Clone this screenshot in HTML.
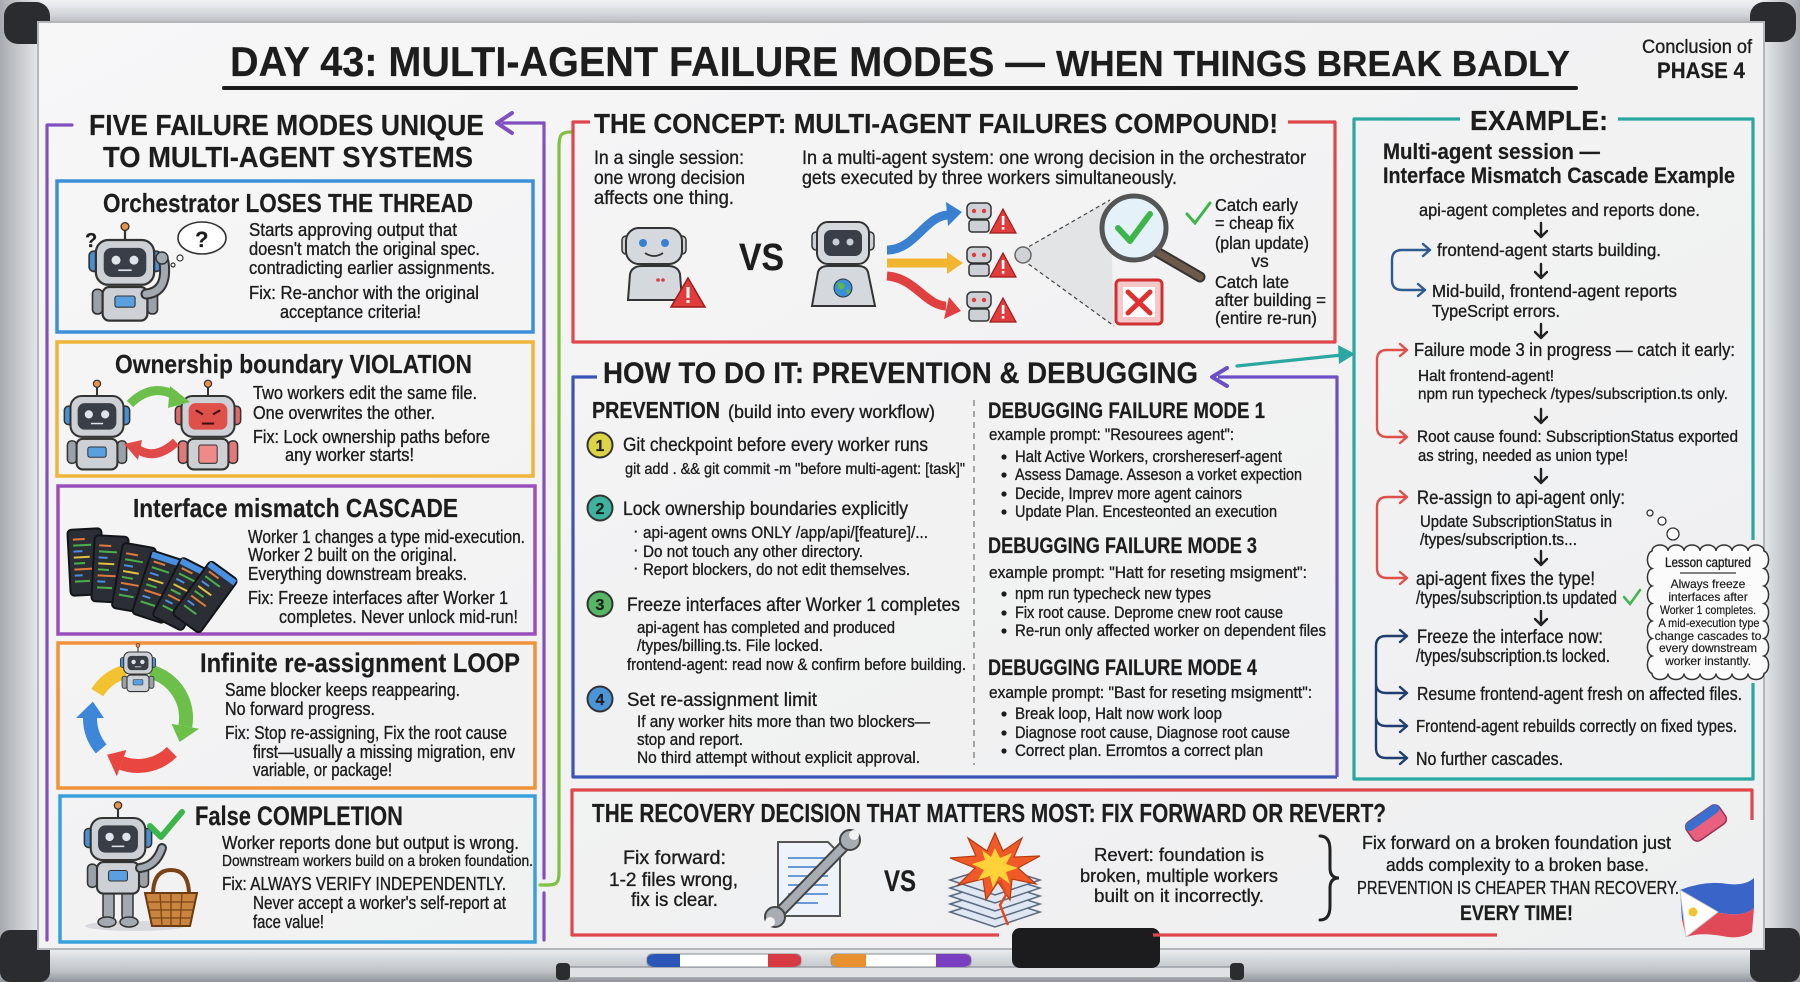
<!DOCTYPE html>
<html><head><meta charset="utf-8"><style>
html,body{margin:0;padding:0;width:1800px;height:982px;overflow:hidden;background:#cfd2d6}
svg{display:block}
.f{font-family:"Liberation Sans Narrow","Liberation Sans",Arial,sans-serif;fill:#1d1d1d;stroke:#1d1d1d;stroke-width:0.35px}
.b{font-weight:700;stroke-width:0.2px}
</style></head><body>
<svg width="1800" height="982" viewBox="0 0 1800 982" xmlns="http://www.w3.org/2000/svg">
<defs>
<linearGradient id="gTop" x1="0" y1="0" x2="0" y2="1"><stop offset="0" stop-color="#f1f2f4"/><stop offset=".6" stop-color="#d2d5d9"/><stop offset="1" stop-color="#b3b7bc"/></linearGradient>
<linearGradient id="gBot" x1="0" y1="0" x2="0" y2="1"><stop offset="0" stop-color="#f3f4f5"/><stop offset=".35" stop-color="#d6d9dc"/><stop offset=".7" stop-color="#bfc3c8"/><stop offset="1" stop-color="#8f949a"/></linearGradient>
<linearGradient id="gL" x1="0" y1="0" x2="1" y2="0"><stop offset="0" stop-color="#a7abb1"/><stop offset="1" stop-color="#e7e9eb"/></linearGradient>
<linearGradient id="gR" x1="0" y1="0" x2="1" y2="0"><stop offset="0" stop-color="#e7e9eb"/><stop offset="1" stop-color="#a7abb1"/></linearGradient>
<linearGradient id="gBoard" x1="0" y1="0" x2="1" y2="1"><stop offset="0" stop-color="#f7f7f8"/><stop offset=".5" stop-color="#f2f2f3"/><stop offset="1" stop-color="#eeeff0"/></linearGradient>
<g id="rob">
 <line x1="0" y1="-10" x2="0" y2="0" stroke="#333" stroke-width="2"/>
 <circle cx="0" cy="-12" r="3.5" fill="#e8904a" stroke="#333" stroke-width="1.2"/>
 <rect x="-32" y="10" width="9" height="18" rx="4" fill="#4a8fd0" stroke="#333" stroke-width="1.5"/>
 <rect x="23" y="10" width="9" height="18" rx="4" fill="#4a8fd0" stroke="#333" stroke-width="1.5"/>
 <rect x="-29" y="44" width="9" height="22" rx="4" fill="#9ba1a9" stroke="#333" stroke-width="1.5"/>
 <rect x="20" y="44" width="9" height="22" rx="4" fill="#9ba1a9" stroke="#333" stroke-width="1.5"/>
 <rect x="-20" y="42" width="40" height="30" rx="6" fill="#cdd1d6" stroke="#333" stroke-width="2"/>
 <rect x="-9" y="50" width="18" height="10" rx="2" fill="#5aa0e0" stroke="#333" stroke-width="1"/>
 <rect x="-26" y="0" width="52" height="40" rx="11" fill="#cdd1d6" stroke="#333" stroke-width="2"/>
 <rect x="-19" y="7" width="38" height="26" rx="7" fill="#3a3f47"/>
 <circle cx="-8" cy="18" r="4" fill="#dfe4ea"/>
 <circle cx="8" cy="18" r="4" fill="#dfe4ea"/>
 <path d="M-6,27 h12" stroke="#dfe4ea" stroke-width="1.5"/>
</g>
<g id="robr">
 <line x1="0" y1="-10" x2="0" y2="0" stroke="#333" stroke-width="2"/>
 <circle cx="0" cy="-12" r="3.5" fill="#e8904a" stroke="#333" stroke-width="1.2"/>
 <rect x="-32" y="10" width="9" height="18" rx="4" fill="#e06a6a" stroke="#333" stroke-width="1.5"/>
 <rect x="23" y="10" width="9" height="18" rx="4" fill="#e06a6a" stroke="#333" stroke-width="1.5"/>
 <rect x="-29" y="44" width="9" height="22" rx="4" fill="#e07a7a" stroke="#333" stroke-width="1.5"/>
 <rect x="20" y="44" width="9" height="22" rx="4" fill="#e07a7a" stroke="#333" stroke-width="1.5"/>
 <rect x="-20" y="42" width="40" height="30" rx="6" fill="#cdd1d6" stroke="#333" stroke-width="2"/>
 <rect x="-9" y="48" width="18" height="18" rx="2" fill="#f08a8a" stroke="#333" stroke-width="1"/>
 <rect x="-26" y="0" width="52" height="40" rx="11" fill="#cdd1d6" stroke="#333" stroke-width="2"/>
 <rect x="-19" y="7" width="38" height="26" rx="7" fill="#e0504a"/>
 <path d="M-12,14 l7,4 M12,14 l-7,4" stroke="#3a1010" stroke-width="2"/>
 <path d="M-6,27 h12" stroke="#3a1010" stroke-width="2"/>
</g>
<g id="code">
 <rect x="-12" y="-24" width="12" height="2" fill="#e07a3a"/>
 <rect x="-12" y="-18" width="18" height="2" fill="#4ab04a"/>
 <rect x="-12" y="-12" width="9" height="2" fill="#4a90e0"/>
 <rect x="-12" y="-6" width="16" height="2" fill="#e0c040"/>
 <rect x="-12" y="0" width="11" height="2" fill="#4ab04a"/>
 <rect x="-12" y="6" width="18" height="2" fill="#e07a3a"/>
 <rect x="-12" y="12" width="8" height="2" fill="#4a90e0"/>
 <rect x="-12" y="18" width="15" height="2" fill="#4ab04a"/>
</g>
<g id="book">
 <rect x="-17" y="-33" width="34" height="66" rx="4" fill="#2b2e35" stroke="#121417" stroke-width="2"/>
 <use href="#code"/>
</g>
<g id="bookb">
 <rect x="-17" y="-33" width="34" height="66" rx="4" fill="#2b2e35" stroke="#121417" stroke-width="2"/>
 <rect x="-16" y="-32" width="32" height="6" fill="#4a90e0"/>
 <use href="#code"/>
</g>
<g id="mini">
 <rect x="-12" y="0" width="24" height="16" rx="5" fill="#cdd1d6" stroke="#333" stroke-width="1.5"/>
 <circle cx="-5" cy="8" r="2.2" fill="#e03c3c"/><circle cx="5" cy="8" r="2.2" fill="#e03c3c"/>
 <rect x="-10" y="17" width="20" height="12" rx="3" fill="#cdd1d6" stroke="#333" stroke-width="1.5"/>
 <polygon points="24,6 37,30 11,30" fill="#e03c3c" stroke="#a01818" stroke-width="1.2"/>
 <rect x="22.8" y="13" width="2.6" height="9" fill="#fff"/><rect x="22.8" y="24" width="2.6" height="2.6" fill="#fff"/>
</g>
</defs>

<!-- FRAME -->
<rect x="0" y="0" width="1800" height="982" fill="#cfd2d6"/>
<rect x="0" y="0" width="1800" height="24" fill="url(#gTop)"/>
<rect x="0" y="0" width="40" height="982" fill="url(#gL)"/>
<rect x="1762" y="0" width="38" height="982" fill="url(#gR)"/>
<rect x="0" y="946" width="1800" height="36" fill="url(#gBot)"/>
<rect x="4" y="2" width="46" height="42" rx="14" fill="#2b2c2f"/>
<rect x="1750" y="2" width="46" height="40" rx="14" fill="#2b2c2f"/>
<rect x="0" y="930" width="50" height="52" rx="10" fill="#2b2c2f"/>
<rect x="1750" y="928" width="50" height="54" rx="10" fill="#2b2c2f"/>
<rect x="38" y="22" width="1726" height="927" fill="url(#gBoard)" stroke="#b3b6bb" stroke-width="2"/>
<!-- tray -->
<rect x="560" y="967" width="680" height="11" rx="5" fill="#dfe1e4" stroke="#9ca0a6" stroke-width="1.5"/>
<rect x="556" y="963" width="14" height="17" rx="4" fill="#2b2c2f"/>
<rect x="1230" y="963" width="14" height="17" rx="4" fill="#2b2c2f"/>
<rect x="647" y="954" width="154" height="13" rx="5" fill="#ffffff" stroke="#8a8e94" stroke-width="1"/>
<path d="M647,960 Q647,954 656,954 L680,954 L680,967 L656,967 Q647,967 647,960 Z" fill="#2a56b8"/>
<path d="M768,954 L792,954 Q801,954 801,960 Q801,967 792,967 L768,967 Z" fill="#d83a44"/>
<rect x="831" y="954" width="140" height="13" rx="5" fill="#ffffff" stroke="#8a8e94" stroke-width="1"/>
<path d="M831,960 Q831,954 840,954 L866,954 L866,967 L840,967 Q831,967 831,960 Z" fill="#e8902e"/>
<path d="M936,954 L962,954 Q971,954 971,960 Q971,967 962,967 L936,967 Z" fill="#7a3fc0"/>
<rect x="1012" y="928" width="148" height="40" rx="8" fill="#1c1c1e"/>

<!-- TITLE -->
<text class="f b" x="230" y="76" font-size="42" textLength="815" lengthAdjust="spacingAndGlyphs">DAY 43: MULTI-AGENT FAILURE MODES —</text>
<text class="f b" x="1056" y="76" font-size="36" textLength="514" lengthAdjust="spacingAndGlyphs">WHEN THINGS BREAK BADLY</text>
<line x1="224" y1="88" x2="1576" y2="88" stroke="#1a1a1a" stroke-width="4" stroke-linecap="round"/>
<text class="f" x="1642" y="53" font-size="19" textLength="110" lengthAdjust="spacingAndGlyphs">Conclusion of</text>
<text class="f b" x="1657" y="78" font-size="22" textLength="88" lengthAdjust="spacingAndGlyphs">PHASE 4</text>

<!-- LEFT PANEL -->
<g fill="none" stroke="#8150c0" stroke-width="3.2" stroke-linecap="round" stroke-linejoin="round">
 <path d="M72,125 L47,125 L47,940"/>
 <path d="M544,123 L503,123"/>
 <path d="M512,113 L497,123 L512,133" stroke-width="4"/>
 <path d="M544,123 L544,878"/>
 <path d="M544,893 L544,940"/>
</g>
<path d="M571,132 C560,132 559,136 559,148 L559,872 C559,884 556,885 546,885 L540,885" fill="none" stroke="#7dc242" stroke-width="3.2" stroke-linecap="round"/>
<text class="f b" x="89" y="135" font-size="29" textLength="395" lengthAdjust="spacingAndGlyphs">FIVE FAILURE MODES UNIQUE</text>
<text class="f b" x="103" y="167" font-size="29" textLength="370" lengthAdjust="spacingAndGlyphs">TO MULTI-AGENT SYSTEMS</text>

<g fill="none" stroke-width="3.5">
 <rect x="57" y="181" width="476" height="151" stroke="#3d8fd8"/>
 <rect x="57" y="342" width="476" height="134" stroke="#f0b43a"/>
 <rect x="58" y="486" width="477" height="148" stroke="#9a4fba"/>
 <rect x="58" y="643" width="477" height="145" stroke="#f0923a"/>
 <rect x="60" y="796" width="475" height="146" stroke="#3aa0dc"/>
</g>

<!-- card 1 -->
<text class="f b" x="103" y="212" font-size="26" textLength="370" lengthAdjust="spacingAndGlyphs">Orchestrator LOSES THE THREAD</text>
<g class="f" font-size="18">
<text x="249" y="236" textLength="208" lengthAdjust="spacingAndGlyphs">Starts approving output that</text>
<text x="249" y="255" textLength="231" lengthAdjust="spacingAndGlyphs">doesn't match the original spec.</text>
<text x="249" y="274" textLength="246" lengthAdjust="spacingAndGlyphs">contradicting earlier assignments.</text>
<text x="249" y="299" textLength="230" lengthAdjust="spacingAndGlyphs">Fix: Re-anchor with the original</text>
<text x="280" y="318" textLength="141" lengthAdjust="spacingAndGlyphs">acceptance criteria!</text>
</g>
<use href="#rob" transform="translate(125,240) scale(1.12)"/>
<path d="M146,294 Q168,292 164,262" fill="none" stroke="#333" stroke-width="11" stroke-linecap="round"/>
<path d="M146,294 Q168,292 164,262" fill="none" stroke="#a3a9b1" stroke-width="7" stroke-linecap="round"/>
<circle cx="162" cy="258" r="6" fill="#a3a9b1" stroke="#333" stroke-width="1.5"/>
<text class="f b" x="85" y="247" font-size="20">?</text>
<ellipse cx="202" cy="238" rx="24" ry="16" fill="#fff" stroke="#333" stroke-width="1.6"/>
<text class="f b" x="195" y="247" font-size="22">?</text>
<circle cx="180" cy="258" r="3" fill="#fff" stroke="#333" stroke-width="1.2"/>
<circle cx="173" cy="265" r="2" fill="#fff" stroke="#333" stroke-width="1.2"/>

<!-- card 2 -->
<text class="f b" x="115" y="373" font-size="26" textLength="357" lengthAdjust="spacingAndGlyphs">Ownership boundary VIOLATION</text>
<g class="f" font-size="18">
<text x="253" y="399" textLength="224" lengthAdjust="spacingAndGlyphs">Two workers edit the same file.</text>
<text x="253" y="419" textLength="182" lengthAdjust="spacingAndGlyphs">One overwrites the other.</text>
<text x="253" y="443" textLength="237" lengthAdjust="spacingAndGlyphs">Fix: Lock ownership paths before</text>
<text x="285" y="461" textLength="129" lengthAdjust="spacingAndGlyphs">any worker starts!</text>
</g>
<use href="#rob" transform="translate(97,396) scale(1.02)"/>
<use href="#robr" transform="translate(208,396) scale(1.02)"/>
<path d="M130,404 Q152,382 176,396" fill="none" stroke="#6cbf4a" stroke-width="9"/>
<polygon points="170,386 190,402 168,408" fill="#6cbf4a"/>
<path d="M176,442 Q154,462 136,448" fill="none" stroke="#e04a48" stroke-width="9"/>
<polygon points="142,440 124,444 138,460" fill="#e04a48"/>

<!-- card 3 -->
<text class="f b" x="133" y="517" font-size="26" textLength="325" lengthAdjust="spacingAndGlyphs">Interface mismatch CASCADE</text>
<g class="f" font-size="18">
<text x="248" y="543" textLength="277" lengthAdjust="spacingAndGlyphs">Worker 1 changes a type mid-execution.</text>
<text x="248" y="561" textLength="209" lengthAdjust="spacingAndGlyphs">Worker 2 built on the original.</text>
<text x="248" y="580" textLength="219" lengthAdjust="spacingAndGlyphs">Everything downstream breaks.</text>
<text x="248" y="604" textLength="260" lengthAdjust="spacingAndGlyphs">Fix: Freeze interfaces after Worker 1</text>
<text x="279" y="623" textLength="239" lengthAdjust="spacingAndGlyphs">completes. Never unlock mid-run!</text>
</g>
<use href="#book" transform="translate(86,562) rotate(-3)"/>
<use href="#book" transform="translate(110,569) rotate(3)"/>
<use href="#book" transform="translate(134,578) rotate(10)"/>
<use href="#bookb" transform="translate(158,587) rotate(18)"/>
<use href="#bookb" transform="translate(182,594) rotate(27)"/>
<use href="#bookb" transform="translate(205,597) rotate(36)"/>

<!-- card 4 -->
<text class="f b" x="200" y="672" font-size="27" textLength="320" lengthAdjust="spacingAndGlyphs">Infinite re-assignment LOOP</text>
<g class="f" font-size="18">
<text x="225" y="696" textLength="235" lengthAdjust="spacingAndGlyphs">Same blocker keeps reappearing.</text>
<text x="225" y="715" textLength="150" lengthAdjust="spacingAndGlyphs">No forward progress.</text>
<text x="225" y="739" textLength="282" lengthAdjust="spacingAndGlyphs">Fix: Stop re-assigning, Fix the root cause</text>
<text x="253" y="758" textLength="262" lengthAdjust="spacingAndGlyphs">first—usually a missing migration, env</text>
<text x="253" y="776" textLength="139" lengthAdjust="spacingAndGlyphs">variable, or package!</text>
</g>
<g fill="none" stroke-width="14">
 <path d="M97.3,692.6 A48,48 0 0 1 125.6,671.6" stroke="#f2c230"/>
 <path d="M150.4,671.6 A48,48 0 0 1 185.3,726.3" stroke="#6cc04a"/>
 <path d="M171.9,751.9 A48,48 0 0 1 121.6,763.1" stroke="#e8463e"/>
 <path d="M101.2,748.9 A48,48 0 0 1 90,718" stroke="#3d86d8"/>
</g>
<polygon points="199.1,728.8 171.5,723.9 179.6,742" fill="#6cc04a"/>
<polygon points="116.8,776.3 126.4,750 107.1,754.8" fill="#e8463e"/>
<polygon points="76,718 104,718 92.9,701.6" fill="#3d86d8"/>
<use href="#rob" transform="translate(138,652) scale(0.55)"/>

<!-- card 5 -->
<text class="f b" x="195" y="825" font-size="27" textLength="208" lengthAdjust="spacingAndGlyphs">False COMPLETION</text>
<g class="f" font-size="18">
<text x="222" y="849" textLength="297" lengthAdjust="spacingAndGlyphs">Worker reports done but output is wrong.</text>
<text x="222" y="866" font-size="15.5" textLength="311" lengthAdjust="spacingAndGlyphs">Downstream workers build on a broken foundation.</text>
<text x="222" y="890" textLength="284" lengthAdjust="spacingAndGlyphs">Fix: ALWAYS VERIFY INDEPENDENTLY.</text>
<text x="253" y="909" textLength="253" lengthAdjust="spacingAndGlyphs">Never accept a worker's self-report at</text>
<text x="253" y="928" textLength="71" lengthAdjust="spacingAndGlyphs">face value!</text>
</g>
<ellipse cx="135" cy="926" rx="50" ry="5" fill="#d8d9dc"/>
<rect x="103" y="888" width="11" height="32" rx="4" fill="#a3a9b1" stroke="#333" stroke-width="1.5"/>
<rect x="122" y="888" width="11" height="32" rx="4" fill="#a3a9b1" stroke="#333" stroke-width="1.5"/>
<ellipse cx="107" cy="922" rx="9" ry="5" fill="#a3a9b1" stroke="#333" stroke-width="1.5"/>
<ellipse cx="129" cy="922" rx="9" ry="5" fill="#a3a9b1" stroke="#333" stroke-width="1.5"/>
<use href="#rob" transform="translate(118,818) scale(1.05)"/>
<path d="M140,868 Q156,866 162,848" fill="none" stroke="#333" stroke-width="10" stroke-linecap="round"/>
<path d="M140,868 Q156,866 162,848" fill="none" stroke="#a3a9b1" stroke-width="6" stroke-linecap="round"/>
<path d="M150,826 L161,837 L182,812" fill="none" stroke="#3db54a" stroke-width="6" stroke-linecap="round" stroke-linejoin="round"/>
<path d="M153,895 Q153,870 171,870 Q189,870 189,895" fill="none" stroke="#7a4418" stroke-width="4"/>
<path d="M145,893 L197,893 L190,926 L152,926 Z" fill="#c9853e" stroke="#6a3a10" stroke-width="2"/>
<path d="M148,902 L194,902 M149,910 L193,910 M150,918 L192,918 M160,893 L162,926 M171,893 L171,926 M182,893 L180,926" stroke="#7a4418" stroke-width="1.3"/>

<!-- CONCEPT BOX -->
<path d="M590,122 L573,122 L573,342 L1335,342 L1335,122 L1288,122" fill="none" stroke="#e0474c" stroke-width="3.2" stroke-linejoin="round"/>
<text class="f b" x="594" y="133" font-size="28" textLength="684" lengthAdjust="spacingAndGlyphs">THE CONCEPT: MULTI-AGENT FAILURES COMPOUND!</text>
<g class="f" font-size="19">
<text x="594" y="164" textLength="150" lengthAdjust="spacingAndGlyphs">In a single session:</text>
<text x="594" y="184" textLength="151" lengthAdjust="spacingAndGlyphs">one wrong decision</text>
<text x="594" y="204" textLength="140" lengthAdjust="spacingAndGlyphs">affects one thing.</text>
<text x="802" y="164" textLength="504" lengthAdjust="spacingAndGlyphs">In a multi-agent system: one wrong decision in the orchestrator</text>
<text x="802" y="184" textLength="375" lengthAdjust="spacingAndGlyphs">gets executed by three workers simultaneously.</text>
</g>
<!-- single robot -->
<rect x="622" y="236" width="8" height="18" rx="4" fill="#cdd1d6" stroke="#333" stroke-width="1.5"/>
<rect x="678" y="236" width="8" height="18" rx="4" fill="#cdd1d6" stroke="#333" stroke-width="1.5"/>
<rect x="626" y="228" width="56" height="36" rx="13" fill="#d5d9de" stroke="#333" stroke-width="2"/>
<circle cx="643" cy="243" r="4" fill="#3a80d0"/><circle cx="665" cy="243" r="4" fill="#3a80d0"/>
<path d="M645,253 Q654,259 663,253" fill="none" stroke="#333" stroke-width="1.8"/>
<path d="M628,300 L630,274 Q632,266 642,266 L668,266 Q678,266 680,274 L682,300 Z" fill="#d5d9de" stroke="#333" stroke-width="2"/>
<circle cx="658" cy="280" r="1.8" fill="#e03c3c"/><circle cx="663" cy="280" r="1.8" fill="#e03c3c"/>
<polygon points="688,278 705,307 671,307" fill="#e03c3c" stroke="#a01818" stroke-width="1.5"/>
<rect x="686.5" y="287" width="3" height="11" fill="#fff"/><rect x="686.5" y="300" width="3" height="3" fill="#fff"/>
<text class="f b" x="739" y="270" font-size="38" textLength="45" lengthAdjust="spacingAndGlyphs">VS</text>
<!-- orchestrator -->
<rect x="812" y="232" width="8" height="18" rx="4" fill="#cdd1d6" stroke="#333" stroke-width="1.5"/>
<rect x="866" y="232" width="8" height="18" rx="4" fill="#cdd1d6" stroke="#333" stroke-width="1.5"/>
<rect x="817" y="222" width="52" height="42" rx="11" fill="#d5d9de" stroke="#333" stroke-width="2"/>
<rect x="824" y="230" width="38" height="26" rx="7" fill="#3a3f47"/>
<circle cx="836" cy="242" r="3.5" fill="#c8ced6"/><circle cx="850" cy="242" r="3.5" fill="#c8ced6"/>
<path d="M812,306 L818,272 Q820,266 828,266 L858,266 Q866,266 868,272 L875,306 Z" fill="#d5d9de" stroke="#333" stroke-width="2"/>
<circle cx="843" cy="288" r="9" fill="#3a8fd6" stroke="#333" stroke-width="1"/>
<path d="M837,283 Q842,281 845,286 Q842,291 839,289 Z M846,290 Q850,288 850,293 Q847,295 846,290 Z" fill="#5cb84a"/>
<!-- arrows -->
<path d="M887,250 C915,250 925,216 948,215" fill="none" stroke="#3a80d0" stroke-width="9"/>
<polygon points="962,212 946,202 948,226" fill="#3a80d0"/>
<path d="M887,263 L948,263" fill="none" stroke="#f2b530" stroke-width="9"/>
<polygon points="963,263 947,252 947,274" fill="#f2b530"/>
<path d="M887,276 C915,278 925,305 946,306" fill="none" stroke="#e04040" stroke-width="9"/>
<polygon points="961,311 949,297 944,319" fill="#e04040"/>
<use href="#mini" transform="translate(979,203)"/>
<use href="#mini" transform="translate(979,247)"/>
<use href="#mini" transform="translate(979,292)"/>
<!-- magnifier -->
<polygon points="1023,250 1110,200 1114,326 1023,260" fill="#d9dadc" opacity=".6"/>
<line x1="1023" y1="250" x2="1110" y2="200" stroke="#444" stroke-width="1.2" stroke-dasharray="4 3"/>
<line x1="1023" y1="260" x2="1114" y2="326" stroke="#444" stroke-width="1.2" stroke-dasharray="4 3"/>
<circle cx="1023" cy="255" r="8" fill="#d0d2d5" stroke="#666" stroke-width="1.5"/>
<line x1="1157" y1="252" x2="1200" y2="277" stroke="#333" stroke-width="11" stroke-linecap="round"/>
<line x1="1157" y1="252" x2="1200" y2="277" stroke="#6e5a48" stroke-width="7" stroke-linecap="round"/>
<circle cx="1134" cy="228" r="32" fill="#e4f1f8" stroke="#555" stroke-width="5"/>
<path d="M1118,228 L1130,241 L1150,214" fill="none" stroke="#3db54a" stroke-width="6" stroke-linecap="round" stroke-linejoin="round"/>
<rect x="1116" y="280" width="46" height="44" rx="4" fill="#f4c8c8" stroke="#d03030" stroke-width="3"/>
<rect x="1123" y="287" width="32" height="30" fill="#fff"/>
<path d="M1128,292 L1150,313 M1150,292 L1128,313" stroke="#e03030" stroke-width="5" stroke-linecap="round"/>
<path d="M1187,214 L1195,223 L1210,203" fill="none" stroke="#3db54a" stroke-width="3" stroke-linecap="round"/>
<g class="f" font-size="17.5">
<text x="1215" y="211" textLength="83" lengthAdjust="spacingAndGlyphs">Catch early</text>
<text x="1215" y="229" textLength="79" lengthAdjust="spacingAndGlyphs">= cheap fix</text>
<text x="1215" y="249" textLength="94" lengthAdjust="spacingAndGlyphs">(plan update)</text>
<text x="1260" y="267" text-anchor="middle">vs</text>
<text x="1215" y="288" textLength="74" lengthAdjust="spacingAndGlyphs">Catch late</text>
<text x="1215" y="306" textLength="111" lengthAdjust="spacingAndGlyphs">after building =</text>
<text x="1215" y="324" textLength="102" lengthAdjust="spacingAndGlyphs">(entire re-run)</text>
</g>

<!-- HOW TO BOX -->
<path d="M597,377 L573,377 L573,777 L1337,777" fill="none" stroke="#3b55b5" stroke-width="3.2" stroke-linejoin="round"/>
<path d="M1337,777 L1337,377 L1218,377" fill="none" stroke="#6b4fc4" stroke-width="3.2" stroke-linejoin="round"/>
<path d="M1227,368 L1212,377 L1227,386" fill="none" stroke="#6b4fc4" stroke-width="4" stroke-linecap="round" stroke-linejoin="round"/>
<path d="M1237,366 L1342,355" fill="none" stroke="#2aa7a0" stroke-width="3.2" stroke-linecap="round"/>
<polygon points="1338,345 1355,354 1339,364" fill="#2aa7a0"/>
<text class="f b" x="603" y="383" font-size="30" textLength="595" lengthAdjust="spacingAndGlyphs">HOW TO DO IT: PREVENTION &amp; DEBUGGING</text>
<line x1="974" y1="400" x2="974" y2="765" stroke="#8a8a8a" stroke-width="1.5" stroke-dasharray="6 5"/>
<text class="f b" x="592" y="418" font-size="23" textLength="128" lengthAdjust="spacingAndGlyphs">PREVENTION</text>
<text class="f" x="728" y="418" font-size="18" textLength="207" lengthAdjust="spacingAndGlyphs">(build into every workflow)</text>
<g stroke="#333" stroke-width="2">
<circle cx="600" cy="445" r="12.5" fill="#dcd445"/>
<circle cx="600" cy="508" r="12.5" fill="#3db39e"/>
<circle cx="600" cy="604" r="12.5" fill="#56b663"/>
<circle cx="600" cy="699" r="12.5" fill="#4a94d8"/>
</g>
<g class="f b" font-size="16" text-anchor="middle">
<text x="600" y="451">1</text><text x="600" y="514">2</text><text x="600" y="610">3</text><text x="600" y="705">4</text>
</g>
<g class="f" font-size="19">
<text x="623" y="451" textLength="305" lengthAdjust="spacingAndGlyphs">Git checkpoint before every worker runs</text>
<text x="623" y="515" textLength="285" lengthAdjust="spacingAndGlyphs">Lock ownership boundaries explicitly</text>
<text x="627" y="611" textLength="333" lengthAdjust="spacingAndGlyphs">Freeze interfaces after Worker 1 completes</text>
<text x="627" y="706" textLength="190" lengthAdjust="spacingAndGlyphs">Set re-assignment limit</text>
</g>
<g class="f" font-size="16.5">
<text x="625" y="474" font-size="16" textLength="340" lengthAdjust="spacingAndGlyphs">git add . &amp;&amp; git commit -m "before multi-agent: [task]"</text>
<text x="633" y="536">·</text><text x="643" y="538" textLength="285" lengthAdjust="spacingAndGlyphs">api-agent owns ONLY /app/api/[feature]/...</text>
<text x="633" y="555">·</text><text x="643" y="557" textLength="220" lengthAdjust="spacingAndGlyphs">Do not touch any other directory.</text>
<text x="633" y="573">·</text><text x="643" y="575" textLength="267" lengthAdjust="spacingAndGlyphs">Report blockers, do not edit themselves.</text>
<text x="637" y="633" textLength="258" lengthAdjust="spacingAndGlyphs">api-agent has completed and produced</text>
<text x="637" y="651" textLength="186" lengthAdjust="spacingAndGlyphs">/types/billing.ts. File locked.</text>
<text x="627" y="670" textLength="339" lengthAdjust="spacingAndGlyphs">frontend-agent: read now &amp; confirm before building.</text>
<text x="637" y="727" textLength="293" lengthAdjust="spacingAndGlyphs">If any worker hits more than two blockers—</text>
<text x="637" y="745" textLength="106" lengthAdjust="spacingAndGlyphs">stop and report.</text>
<text x="637" y="763" textLength="283" lengthAdjust="spacingAndGlyphs">No third attempt without explicit approval.</text>
</g>
<g class="f b" font-size="22">
<text x="988" y="418" textLength="277" lengthAdjust="spacingAndGlyphs">DEBUGGING FAILURE MODE 1</text>
<text x="988" y="553" textLength="269" lengthAdjust="spacingAndGlyphs">DEBUGGING FAILURE MODE 3</text>
<text x="988" y="675" textLength="269" lengthAdjust="spacingAndGlyphs">DEBUGGING FAILURE MODE 4</text>
</g>
<g class="f" font-size="16.5">
<text x="989" y="440" textLength="245" lengthAdjust="spacingAndGlyphs">example prompt: "Resourees agent":</text>
<text x="1015" y="462" textLength="267" lengthAdjust="spacingAndGlyphs">Halt Active Workers, crorshereserf-agent</text>
<text x="1015" y="480" textLength="287" lengthAdjust="spacingAndGlyphs">Assess Damage. Asseson a vorket expection</text>
<text x="1015" y="499" textLength="227" lengthAdjust="spacingAndGlyphs">Decide, Imprev more agent cainors</text>
<text x="1015" y="517" textLength="262" lengthAdjust="spacingAndGlyphs">Update Plan. Encesteonted an execution</text>
<text x="989" y="578" textLength="318" lengthAdjust="spacingAndGlyphs">example prompt: "Hatt for reseting msigment":</text>
<text x="1015" y="599" textLength="196" lengthAdjust="spacingAndGlyphs">npm run typecheck new types</text>
<text x="1015" y="618" textLength="268" lengthAdjust="spacingAndGlyphs">Fix root cause. Deprome cnew root cause</text>
<text x="1015" y="636" textLength="311" lengthAdjust="spacingAndGlyphs">Re-run only affected worker on dependent files</text>
<text x="989" y="698" textLength="323" lengthAdjust="spacingAndGlyphs">example prompt: "Bast for reseting msigmentt":</text>
<text x="1015" y="719" textLength="207" lengthAdjust="spacingAndGlyphs">Break loop, Halt now work loop</text>
<text x="1015" y="738" textLength="275" lengthAdjust="spacingAndGlyphs">Diagnose root cause, Diagnose root cause</text>
<text x="1015" y="756" textLength="248" lengthAdjust="spacingAndGlyphs">Correct plan. Erromtos a correct plan</text>
</g>
<g fill="#1d1d1d">
<circle cx="1004" cy="457" r="2.6"/><circle cx="1004" cy="475" r="2.6"/><circle cx="1004" cy="494" r="2.6"/><circle cx="1004" cy="512" r="2.6"/>
<circle cx="1004" cy="594" r="2.6"/><circle cx="1004" cy="613" r="2.6"/><circle cx="1004" cy="631" r="2.6"/>
<circle cx="1004" cy="714" r="2.6"/><circle cx="1004" cy="733" r="2.6"/><circle cx="1004" cy="751" r="2.6"/>
</g>

<!-- EXAMPLE BOX -->
<path d="M1460,119 L1354,119 L1354,779 L1753,779 L1753,683 M1753,540 L1753,119 L1618,119" fill="none" stroke="#2aa7a0" stroke-width="3.2" stroke-linejoin="round"/>
<text class="f b" x="1470" y="130" font-size="28" textLength="138" lengthAdjust="spacingAndGlyphs">EXAMPLE:</text>
<text class="f b" x="1383" y="159" font-size="22" textLength="217" lengthAdjust="spacingAndGlyphs">Multi-agent session —</text>
<text class="f b" x="1383" y="183" font-size="22" textLength="352" lengthAdjust="spacingAndGlyphs">Interface Mismatch Cascade Example</text>
<g class="f" font-size="17.5">
<text x="1419" y="216" textLength="281" lengthAdjust="spacingAndGlyphs">api-agent completes and reports done.</text>
<text x="1437" y="256" textLength="224" lengthAdjust="spacingAndGlyphs">frontend-agent starts building.</text>
<text x="1432" y="297" textLength="245" lengthAdjust="spacingAndGlyphs">Mid-build, frontend-agent reports</text>
<text x="1432" y="317" textLength="128" lengthAdjust="spacingAndGlyphs">TypeScript errors.</text>
<text x="1414" y="356" font-size="18" textLength="321" lengthAdjust="spacingAndGlyphs">Failure mode 3 in progress — catch it early:</text>
<text x="1418" y="381" font-size="16" textLength="136" lengthAdjust="spacingAndGlyphs">Halt frontend-agent!</text>
<text x="1418" y="399" font-size="16" textLength="310" lengthAdjust="spacingAndGlyphs">npm run typecheck /types/subscription.ts only.</text>
<text x="1417" y="442" font-size="17" textLength="321" lengthAdjust="spacingAndGlyphs">Root cause found: SubscriptionStatus exported</text>
<text x="1418" y="461" font-size="17" textLength="210" lengthAdjust="spacingAndGlyphs">as string, needed as union type!</text>
<text x="1417" y="504" font-size="19.5" textLength="208" lengthAdjust="spacingAndGlyphs">Re-assign to api-agent only:</text>
<text x="1420" y="527" font-size="16.5" textLength="192" lengthAdjust="spacingAndGlyphs">Update SubscriptionStatus in</text>
<text x="1420" y="545" font-size="16.5" textLength="157" lengthAdjust="spacingAndGlyphs">/types/subscription.ts...</text>
<text x="1416" y="585" font-size="19.5" textLength="179" lengthAdjust="spacingAndGlyphs">api-agent fixes the type!</text>
<text x="1416" y="604" font-size="18" textLength="201" lengthAdjust="spacingAndGlyphs">/types/subscription.ts updated</text>
<text x="1417" y="643" font-size="19.5" textLength="186" lengthAdjust="spacingAndGlyphs">Freeze the interface now:</text>
<text x="1416" y="662" font-size="18" textLength="194" lengthAdjust="spacingAndGlyphs">/types/subscription.ts locked.</text>
<text x="1417" y="700" font-size="18.5" textLength="325" lengthAdjust="spacingAndGlyphs">Resume frontend-agent fresh on affected files.</text>
<text x="1416" y="732" font-size="17.5" textLength="321" lengthAdjust="spacingAndGlyphs">Frontend-agent rebuilds correctly on fixed types.</text>
<text x="1416" y="765" font-size="18.5" textLength="147" lengthAdjust="spacingAndGlyphs">No further cascades.</text>
</g>
<path d="M1624,597 L1630,604 L1640,590" fill="none" stroke="#3db54a" stroke-width="2.5" stroke-linecap="round"/>
<g fill="none" stroke="#222" stroke-width="2.4" stroke-linecap="round" stroke-linejoin="round">
<path d="M1541,223 L1541,237 M1535,231 L1541,237 L1547,231"/>
<path d="M1541,264 L1541,278 M1535,272 L1541,278 L1547,272"/>
<path d="M1541,324 L1541,338 M1535,332 L1541,338 L1547,332"/>
<path d="M1541,409 L1541,423 M1535,417 L1541,423 L1547,417"/>
<path d="M1541,469 L1541,483 M1535,477 L1541,483 L1547,477"/>
<path d="M1541,551 L1541,565 M1535,559 L1541,565 L1547,559"/>
<path d="M1541,611 L1541,625 M1535,619 L1541,625 L1547,619"/>
</g>
<g fill="none" stroke-width="2.4" stroke-linecap="round" stroke-linejoin="round">
<path d="M1430,250 L1402,250 Q1392,250 1392,260 L1392,280 Q1392,290 1402,290 L1425,290 M1423,244 L1430,250 L1423,256 M1418,284 L1425,290 L1418,296" stroke="#2d5a8f"/>
<path d="M1407,350 L1387,350 Q1377,350 1377,360 L1377,427 Q1377,437 1387,437 L1407,437 M1400,344 L1407,350 L1400,356 M1400,431 L1407,437 L1400,443" stroke="#e0504a"/>
<path d="M1407,497 L1387,497 Q1377,497 1377,507 L1377,568 Q1377,578 1387,578 L1407,578 M1400,491 L1407,497 L1400,503 M1400,572 L1407,578 L1400,584" stroke="#e0504a"/>
<path d="M1407,636 L1386,636 Q1376,636 1376,646 L1376,748 Q1376,758 1386,758 L1407,758 M1376,683 Q1376,693 1386,693 L1407,693 M1376,716 Q1376,726 1386,726 L1407,726 M1400,630 L1407,636 L1400,642 M1400,687 L1407,693 L1400,699 M1400,720 L1407,726 L1400,732 M1400,752 L1407,758 L1400,764" stroke="#1f3d6e"/>
</g>
<!-- thought cloud -->
<circle cx="1650" cy="513" r="3" fill="#fff" stroke="#333" stroke-width="1.3"/>
<circle cx="1662" cy="521" r="4" fill="#fff" stroke="#333" stroke-width="1.3"/>
<circle cx="1673" cy="534" r="6" fill="#fff" stroke="#333" stroke-width="1.3"/>
<path d="M1652,551 a8,6 0 0 1 16,0 a8,6 0 0 1 16,0 a8,6 0 0 1 16,0 a8,6 0 0 1 16,0 a8,6 0 0 1 16,0 a8,6 0 0 1 16,0 a8,6 0 0 1 16,0 a6,9 0 0 1 0,17.5 a6,9 0 0 1 0,17.5 a6,9 0 0 1 0,17.5 a6,9 0 0 1 0,17.5 a6,9 0 0 1 0,17.5 a6,9 0 0 1 0,17.5 a6,9 0 0 1 0,17.5 a8,6 0 0 1 -16,0 a8,6 0 0 1 -16,0 a8,6 0 0 1 -16,0 a8,6 0 0 1 -16,0 a8,6 0 0 1 -16,0 a8,6 0 0 1 -16,0 a8,6 0 0 1 -16,0 a6,9 0 0 1 0,-17.5 a6,9 0 0 1 0,-17.5 a6,9 0 0 1 0,-17.5 a6,9 0 0 1 0,-17.5 a6,9 0 0 1 0,-17.5 a6,9 0 0 1 0,-17.5 a6,9 0 0 1 0,-17.5 Z" fill="#fbfbfb" stroke="#333" stroke-width="1.5"/>
<text class="f" x="1708" y="567" font-size="13.5" text-anchor="middle" textLength="86" lengthAdjust="spacingAndGlyphs">Lesson captured</text>
<line x1="1680" y1="573" x2="1736" y2="573" stroke="#333" stroke-width="1.2"/>
<g class="f" font-size="12" text-anchor="middle" style="stroke-width:0.2px">
<text x="1708" y="588">Always freeze</text>
<text x="1708" y="601">interfaces after</text>
<text x="1708" y="614" textLength="96" lengthAdjust="spacingAndGlyphs">Worker 1 completes.</text>
<text x="1709" y="627" textLength="101" lengthAdjust="spacingAndGlyphs">A mid-execution type</text>
<text x="1708" y="640">change cascades to</text>
<text x="1708" y="652">every downstream</text>
<text x="1708" y="665">worker instantly.</text>
</g>

<!-- RECOVERY BOX -->
<path d="M1752,820 L1752,790 L572,790 L572,935 L999,935 M1153,935 L1497,935" fill="none" stroke="#e0474c" stroke-width="3.2" stroke-linejoin="round"/>
<text class="f b" x="592" y="822" font-size="26" textLength="794" lengthAdjust="spacingAndGlyphs">THE RECOVERY DECISION THAT MATTERS MOST: FIX FORWARD OR REVERT?</text>
<g class="f" font-size="19">
<text x="623" y="864" textLength="103" lengthAdjust="spacingAndGlyphs">Fix forward:</text>
<text x="609" y="886" textLength="129" lengthAdjust="spacingAndGlyphs">1-2 files wrong,</text>
<text x="631" y="906" textLength="87" lengthAdjust="spacingAndGlyphs">fix is clear.</text>
<text x="1094" y="861" font-size="18.5" textLength="170" lengthAdjust="spacingAndGlyphs">Revert: foundation is</text>
<text x="1080" y="882" font-size="18.5" textLength="198" lengthAdjust="spacingAndGlyphs">broken, multiple workers</text>
<text x="1094" y="902" font-size="18.5" textLength="170" lengthAdjust="spacingAndGlyphs">built on it incorrectly.</text>
<text x="1362" y="849" font-size="18" textLength="309" lengthAdjust="spacingAndGlyphs">Fix forward on a broken foundation just</text>
<text x="1386" y="871" font-size="18" textLength="263" lengthAdjust="spacingAndGlyphs">adds complexity to a broken base.</text>
<text x="1357" y="894" font-size="18" textLength="322" lengthAdjust="spacingAndGlyphs">PREVENTION IS CHEAPER THAN RECOVERY.</text>
</g>
<text class="f b" x="1460" y="920" font-size="21" textLength="113" lengthAdjust="spacingAndGlyphs">EVERY TIME!</text>
<text class="f b" x="884" y="891" font-size="30" textLength="32" lengthAdjust="spacingAndGlyphs">VS</text>
<!-- doc + wrench -->
<path d="M778,842 L828,842 L840,854 L840,916 L778,916 Z" fill="#eef3fa" stroke="#555" stroke-width="2"/>
<path d="M788,858 h40 M788,867 h40 M788,876 h40 M788,885 h40 M788,894 h40 M788,903 h30" stroke="#6a9ad6" stroke-width="2"/>
<line x1="848" y1="842" x2="778" y2="914" stroke="#444" stroke-width="12" stroke-linecap="round"/>
<line x1="848" y1="842" x2="778" y2="914" stroke="#a8adb3" stroke-width="8" stroke-linecap="round"/>
<circle cx="850" cy="840" r="10" fill="#a8adb3" stroke="#444" stroke-width="2"/>
<circle cx="854" cy="835" r="5" fill="#f2f2f3"/>
<circle cx="775" cy="917" r="10" fill="#a8adb3" stroke="#444" stroke-width="2"/>
<circle cx="770" cy="922" r="5" fill="#f2f2f3"/>
<!-- explosion + stack -->
<g stroke="#5a6a80" stroke-width="1.5" fill="#dfe7f2">
<polygon points="950,912 995,898 1040,912 995,927"/>
<polygon points="950,904 995,890 1040,904 995,919"/>
<polygon points="950,896 995,882 1040,896 995,911"/>
<polygon points="950,888 995,874 1040,888 995,903"/>
<polygon points="950,880 995,866 1040,880 995,895"/>
</g>
<polygon points="995,833 1003,851 1022,838 1014,857 1040,856 1018,868 1036,884 1012,879 1010,900 998,882 986,900 983,879 958,885 975,868 950,858 976,856 968,838 987,851" fill="#f05a28" stroke="#b83a10" stroke-width="1.2"/>
<polygon points="995,848 1000,858 1012,853 1006,864 1018,868 1006,872 1010,884 999,876 993,888 990,876 978,880 984,870 972,864 985,860 982,850 991,857" fill="#ffd23a"/>
<path d="M1000,880 L1006,895 L1000,905 L1008,925" fill="none" stroke="#e04a20" stroke-width="2.5"/>
<!-- brace -->
<path d="M1320,836 Q1330,836 1330,850 L1330,868 Q1330,878 1339,878 Q1330,878 1330,888 L1330,906 Q1330,920 1320,920" fill="none" stroke="#222" stroke-width="3" stroke-linecap="round"/>
<!-- pink eraser -->
<g transform="translate(1706,823) rotate(-35)">
<rect x="-20" y="-11" width="40" height="22" rx="6" fill="#e8607e" stroke="#9a3050" stroke-width="1.5"/>
<rect x="-20" y="-11" width="40" height="9" rx="5" fill="#3a6fd0"/>
</g>
<!-- flag -->
<path d="M1680,890 Q1705,880 1728,884 Q1745,886 1754,878 L1754,908 Q1745,916 1728,914 Q1705,910 1682,920 Z" fill="#3a64c8"/>
<path d="M1682,920 Q1705,910 1728,914 Q1745,916 1754,908 L1752,932 Q1740,940 1722,936 Q1700,932 1686,937 Z" fill="#e04a58"/>
<path d="M1680,890 L1718,912 L1686,937 Z" fill="#ffffff" stroke="#ccc" stroke-width="1"/>
<circle cx="1693" cy="912" r="4.5" fill="#f2c230"/>
</svg>
</body></html>
